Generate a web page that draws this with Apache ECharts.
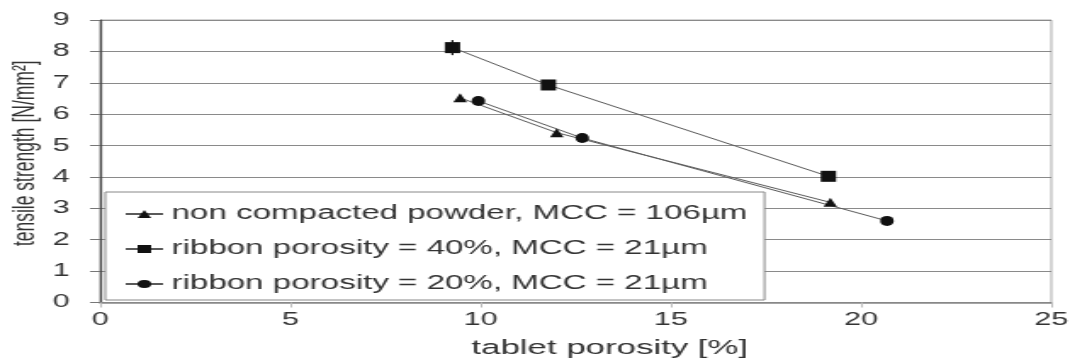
<!DOCTYPE html>
<html><head><meta charset="utf-8">
<script src="https://cdn.jsdelivr.net/npm/echarts@6/dist/echarts.min.js"></script>
<style>
html,body{margin:0;padding:0;background:#fff;overflow:hidden;width:1070px;height:364px}
#chart{width:630px;height:364px;transform:scaleX(1.6984);transform-origin:0 0;}
</style></head><body><div id="chart"></div>
<script>
// ---- data ----
const seriesNames = [
  'non compacted powder, MCC = 106µm',
  'ribbon porosity = 40%, MCC = 21µm',
  'ribbon porosity = 20%, MCC = 21µm'
];
const porosityNonCompacted = [9.46, 12.0, 19.19];
const strengthNonCompacted = [6.52, 5.41, 3.19];
const porosityRibbon40 = [9.26, 11.78, 19.14];
const strengthRibbon40 = [8.12, 6.93, 4.02];
const errorRibbon40 = [0.24, 0, 0];
const porosityRibbon20 = [9.94, 12.67, 20.68];
const strengthRibbon20 = [6.42, 5.24, 2.6];
const xTickValues = [0, 5, 10, 15, 20, 25];
const yTickValues = [0, 1, 2, 3, 4, 5, 6, 7, 8, 9];
const xAxisTitle = 'tablet porosity [%]';
const yAxisTitle = 'tensile strength [N/mm²]';

const pairs = (xs, ys) => xs.map((x, i) => [x, ys[i]]);
const font = "'Liberation Sans', Arial, sans-serif";

const chart = echarts.init(document.getElementById('chart'), null, {renderer: 'canvas'});
const lineSeries = (name, xs, ys, symbol, size) => ({
  name, type: 'line', data: pairs(xs, ys), symbol, symbolSize: size,
  itemStyle: {color: '#111'}, lineStyle: {color: '#5a5a5a', width: 1},
  emphasis: {disabled: true}, z: 3
});
chart.setOption({
  animation: false,
  backgroundColor: '#fff',
  textStyle: {fontFamily: font},
  grid: {left: 59, right: 11, top: 20, bottom: 61.5, show: true, borderColor: '#aaa', borderWidth: 1,
         containLabel: false, outerBoundsMode: 'none'},
  xAxis: {
    type: 'value', min: xTickValues[0], max: xTickValues[xTickValues.length - 1], interval: 5,
    axisLine: {show: true, lineStyle: {color: '#888', width: 1.5}},
    axisTick: {show: true, length: 5, lineStyle: {color: '#bbb'}},
    axisLabel: {fontSize: 18, color: '#333', margin: 9, fontFamily: font},
    splitLine: {show: false},
    name: xAxisTitle, nameLocation: 'middle', nameGap: 35, nameMoveOverlap: false,
    nameTextStyle: {fontSize: 20.5, color: '#333', fontFamily: font, padding: [0, 0, 0, 40]}
  },
  yAxis: {
    type: 'value', min: yTickValues[0], max: yTickValues[yTickValues.length - 1], interval: 1,
    axisLine: {show: true, lineStyle: {color: '#444', width: 1.2}},
    axisTick: {show: true, length: 6, lineStyle: {color: '#777'}},
    axisLabel: {fontSize: 18, color: '#333', margin: 18, fontFamily: font},
    splitLine: {show: true, lineStyle: {color: '#8a8a8a', width: 1}},
    name: yAxisTitle, nameLocation: 'middle', nameGap: 35, nameMoveOverlap: false,
    nameTextStyle: {fontSize: 17.5, color: '#333', fontFamily: font, padding: [0, 0, 0, 16]}
  },
  legend: {
    orient: 'vertical', left: 62, top: 192,
    padding: [12, 10, 6, 11], itemGap: 15, itemWidth: 22, itemHeight: 10,
    backgroundColor: '#fff', borderColor: '#888', borderWidth: 1,
    textStyle: {fontSize: 19.5, color: '#333', fontFamily: font, lineHeight: 20},
    data: seriesNames, z: 10
  },
  series: [
    lineSeries(seriesNames[0], porosityNonCompacted, strengthNonCompacted, 'triangle', [8, 9]),
    lineSeries(seriesNames[1], porosityRibbon40, strengthRibbon40, 'rect', [9, 11]),
    lineSeries(seriesNames[2], porosityRibbon20, strengthRibbon20, 'circle', [8, 10]),
    {
      type: 'custom', name: 'err', z: 4, silent: true,
      data: porosityRibbon40.map((x, i) => [x, strengthRibbon40[i], errorRibbon40[i]]),
      encode: {x: 0, y: 1},
      renderItem: (params, api) => {
        const x = api.value(0), y = api.value(1), e = api.value(2);
        const p1 = api.coord([x, y - e]), p2 = api.coord([x, y + e]);
        return {type: 'line', shape: {x1: p1[0], y1: p1[1], x2: p2[0], y2: p2[1]},
                style: {stroke: '#111', lineWidth: 1.2}};
      }
    }
  ]
});
</script></body></html>
